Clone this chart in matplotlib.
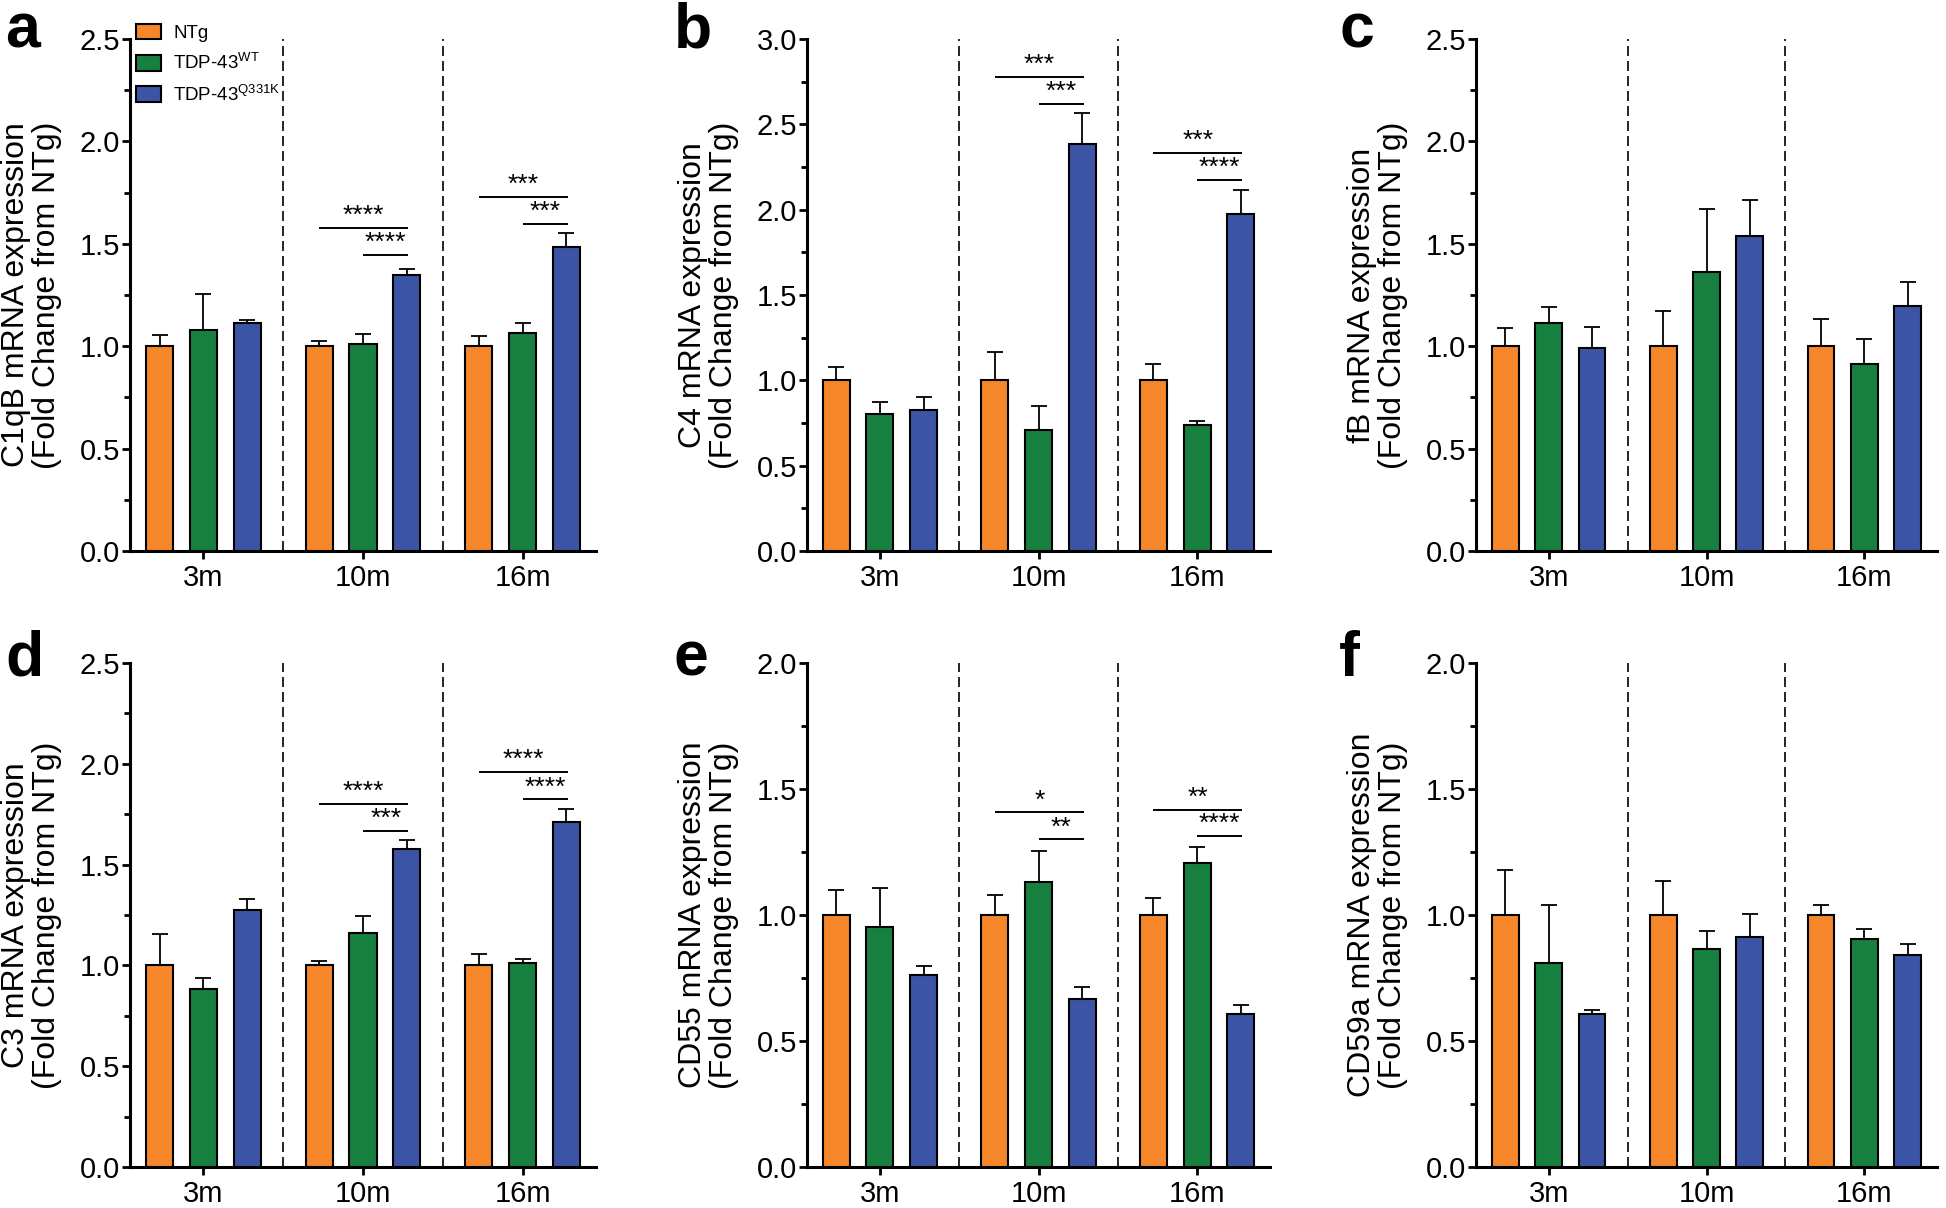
import matplotlib
matplotlib.use("Agg")
import matplotlib.pyplot as plt
from matplotlib.patches import Patch
from matplotlib.ticker import MultipleLocator, FormatStrFormatter
import numpy as np

plt.rcParams['font.family'] = ['Liberation Sans', 'DejaVu Sans']
plt.rcParams['mathtext.fontset'] = 'custom'
plt.rcParams['mathtext.rm'] = 'Liberation Sans'
plt.rcParams['mathtext.it'] = 'Liberation Sans:italic'

# datos (filas = edad, columnas = genotipo)
groups = ['3m', '10m', '16m']
genotypes = ['NTg', r'TDP-43$^{\mathrm{WT}}$', r'TDP-43$^{\mathrm{Q331K}}$']
colors = ['#F5862A', '#17803F', '#3C54A5']

c1qb_mean = [[1.00, 1.077, 1.113], [1.00, 1.011, 1.346], [1.00, 1.066, 1.485]]
c1qb_err = [[0.056, 0.177, 0.017], [0.026, 0.047, 0.030], [0.049, 0.047, 0.068]]
c4_mean = [[1.00, 0.800, 0.826], [1.00, 0.710, 2.384], [1.00, 0.738, 1.974]]
c4_err = [[0.078, 0.075, 0.079], [0.168, 0.140, 0.183], [0.094, 0.022, 0.142]]
fb_mean = [[1.00, 1.115, 0.989], [1.00, 1.363, 1.538], [1.00, 0.915, 1.197]]
fb_err = [[0.090, 0.075, 0.103], [0.171, 0.308, 0.176], [0.133, 0.121, 0.117]]
c3_mean = [[1.00, 0.884, 1.273], [1.00, 1.163, 1.575], [1.00, 1.011, 1.711]]
c3_err = [[0.154, 0.054, 0.058], [0.023, 0.083, 0.046], [0.055, 0.021, 0.065]]
cd55_mean = [[1.00, 0.951, 0.763], [1.00, 1.130, 0.668], [1.00, 1.205, 0.609]]
cd55_err = [[0.100, 0.156, 0.035], [0.078, 0.122, 0.046], [0.069, 0.064, 0.035]]
cd59a_mean = [[1.00, 0.809, 0.607], [1.00, 0.864, 0.913], [1.00, 0.904, 0.843]]
cd59a_err = [[0.180, 0.232, 0.015], [0.135, 0.072, 0.090], [0.040, 0.039, 0.042]]

# significancia: (grupo, barra_ini, barra_fin, y, etiqueta)
c1qb_sig = [(1, 0, 2, 1.577, '****'), (1, 1, 2, 1.444, '****'),
            (2, 0, 2, 1.727, '***'), (2, 1, 2, 1.596, '***')]
c4_sig = [(1, 0, 2, 2.777, '***'), (1, 1, 2, 2.619, '***'),
          (2, 0, 2, 2.330, '***'), (2, 1, 2, 2.172, '****')]
c3_sig = [(1, 0, 2, 1.800, '****'), (1, 1, 2, 1.665, '***'),
          (2, 0, 2, 1.958, '****'), (2, 1, 2, 1.823, '****')]
cd55_sig = [(1, 0, 2, 1.407, '*'), (1, 1, 2, 1.300, '**'),
            (2, 0, 2, 1.417, '**'), (2, 1, 2, 1.313, '****')]

panels = [
    ('a', 'C1qB', c1qb_mean, c1qb_err, c1qb_sig, 2.5),
    ('b', 'C4', c4_mean, c4_err, c4_sig, 3.0),
    ('c', 'fB', fb_mean, fb_err, [], 2.5),
    ('d', 'C3', c3_mean, c3_err, c3_sig, 2.5),
    ('e', 'CD55', cd55_mean, cd55_err, cd55_sig, 2.0),
    ('f', 'CD59a', cd59a_mean, cd59a_err, [], 2.0),
]

W, H = 1946, 1208
fig = plt.figure(figsize=(W / 100, H / 100), dpi=100)

# posiciones de los ejes en pixeles (izq, der, arriba, abajo)
lefts = [130, 807, 1476]
rights = [596, 1270, 1937]
tops = [39, 663]
bottoms = [551, 1167]
letter_x = [5, 674, 1339]
letter_y = [47, 676]

offsets = np.array([-0.275, 0.0, 0.275])
width = 0.17
x = np.arange(len(groups))

for k, (letter, gene, mean, err, sig, ymax) in enumerate(panels):
    r, c = divmod(k, 3)
    ax = fig.add_axes([lefts[c] / W, 1 - bottoms[r] / H,
                       (rights[c] - lefts[c]) / W, (bottoms[r] - tops[r]) / H])
    mean = np.array(mean)
    err = np.array(err)
    for j in range(3):
        ax.bar(x + offsets[j], mean[:, j], width, color=colors[j],
               edgecolor='black', linewidth=1.5, zorder=3, label=genotypes[j])
        ax.errorbar(x + offsets[j], mean[:, j], yerr=[np.zeros(3), err[:, j]],
                    fmt='none', ecolor='black', elinewidth=1.3, capsize=6,
                    capthick=1.3, zorder=2)
    for xv in [0.5, 1.5]:
        ax.axvline(xv, color='black', lw=1.2, ls=(0, (6, 3)), zorder=1)
    for g, i, j, y, lab in sig:
        x0 = g + offsets[i]
        x1 = g + offsets[j] + 0.01
        ax.plot([x0, x1], [y, y], color='black', lw=1.4, solid_capstyle='butt')
        ax.text((x0 + x1) / 2, y, lab, ha='center', va='bottom', fontsize=19)

    ax.set_xlim(-0.46, 2.46)
    ax.set_ylim(0, ymax)
    ax.set_xticks(x)
    ax.set_xticklabels(groups)
    ax.yaxis.set_major_locator(MultipleLocator(0.5))
    ax.yaxis.set_minor_locator(MultipleLocator(0.25))
    ax.yaxis.set_major_formatter(FormatStrFormatter('%.1f'))
    for s in ['top', 'right']:
        ax.spines[s].set_visible(False)
    for s in ['left', 'bottom']:
        ax.spines[s].set_linewidth(2.2)
    ax.tick_params(axis='both', which='major', labelsize=21, width=2, length=6)
    ax.tick_params(axis='y', which='major', pad=1)
    ax.tick_params(axis='x', which='major', pad=3)
    ax.tick_params(axis='y', which='minor', width=2, length=4)
    ax.set_ylabel(gene + ' mRNA expression\n(Fold Change from NTg)', fontsize=23,
                  linespacing=1.05)
    ax.yaxis.set_label_coords(-68 / (rights[c] - lefts[c]), 0.5)

    fig.text(letter_x[c] / W, 1 - letter_y[r] / H, letter, fontsize=45,
             fontweight='bold', ha='left', va='baseline')

    if letter == 'a':
        handles = [Patch(facecolor=colors[j], edgecolor='black', linewidth=1.5)
                   for j in range(3)]
        ax.legend(handles, genotypes, loc='upper left', frameon=False,
                  bbox_to_anchor=(0.012, 1.03), borderaxespad=0, borderpad=0,
                  fontsize=13.5, handlelength=1.35, handleheight=0.9,
                  handletextpad=0.65, labelspacing=0.6)

fig.savefig('out.png', dpi=100)
